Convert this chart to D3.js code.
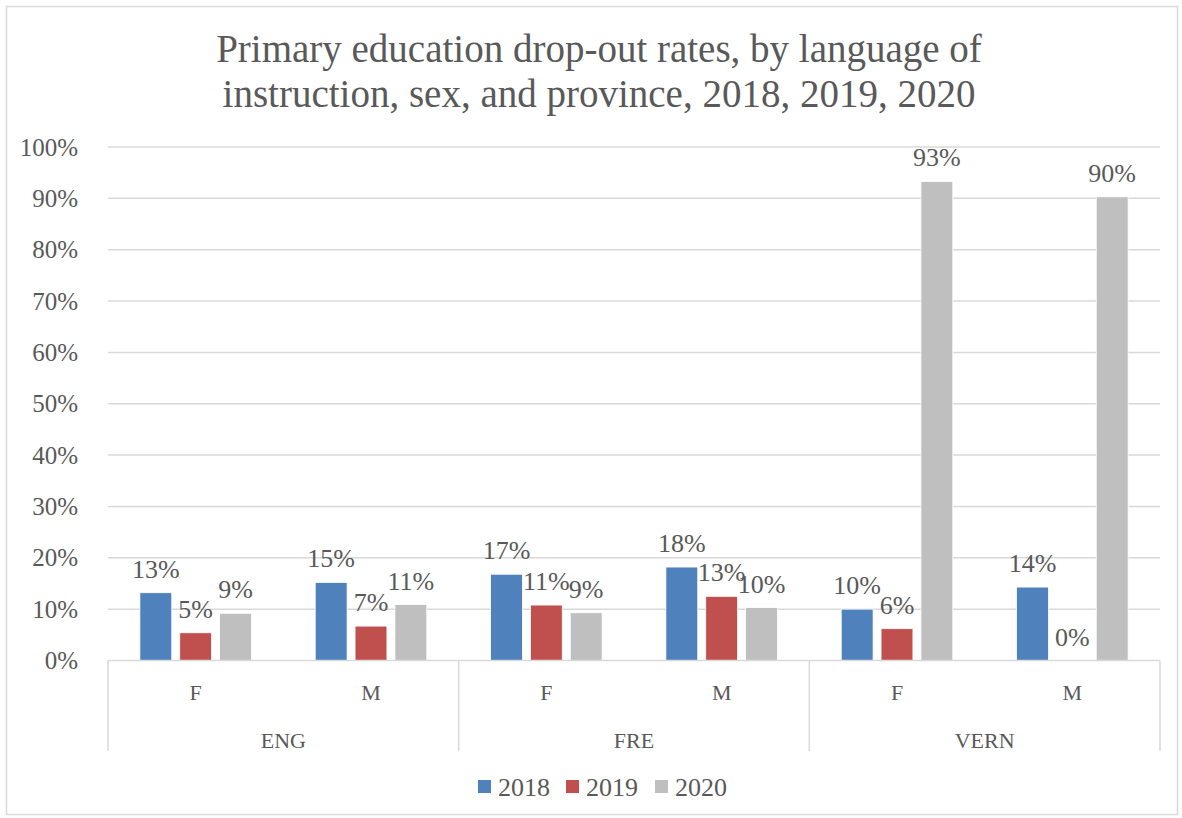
<!DOCTYPE html>
<html>
<head>
<meta charset="utf-8">
<script src="https://cdn.jsdelivr.net/npm/d3@7"></script>
<style>
  body { margin: 0; background: #fff; }
  text { font-family: "Liberation Serif", "DejaVu Serif", serif; fill: #595959; }
</style>
</head>
<body>
<svg id="chart" width="1182" height="818"></svg>
<script>
// data
const groups = ['ENG', 'FRE', 'VERN'];
const sexes = ['F', 'M'];
const years = ['2018', '2019', '2020'];
const v2018 = [13.2, 15.2, 16.8, 18.2, 10.0, 14.3];
const v2019 = [5.4, 6.7, 10.8, 12.5, 6.2, 0];
const v2020 = [9.2, 10.9, 9.3, 10.3, 93.3, 90.3];
const yTicks = [0, 10, 20, 30, 40, 50, 60, 70, 80, 90, 100];
const colors = ['#4F81BD', '#C0504D', '#BFBFBF'];
const titleLines = ['Primary education drop-out rates, by language of',
                    'instruction, sex, and province, 2018, 2019, 2020'];

const svg = d3.select('#chart');
const margin = { left: 108, right: 1160, top: 147, bottom: 660.5 };

// outer frame
svg.append('rect')
    .attr('x', 6.5).attr('y', 6.5)
    .attr('width', 1171).attr('height', 808)
    .attr('fill', 'none').attr('stroke', '#D9D9D9').attr('stroke-width', 1.5);

// title
svg.append('g').selectAll('text')
    .data(titleLines)
    .enter()
    .append('text')
    .attr('x', 599)
    .attr('y', (d, i) => 62 + i * 45)
    .attr('text-anchor', 'middle')
    .attr('font-size', '39px')
    .text(d => d);

// subcategories: group x sex
const cats = [];
groups.forEach(g => sexes.forEach(s => cats.push(g + '|' + s)));

const x0 = d3.scaleBand().domain(cats).range([margin.left, margin.right]);
const x1 = d3.scaleBand().domain(years).range([0, x0.bandwidth()])
    .paddingInner(0.2).paddingOuter(0.8);
const y = d3.scaleLinear().domain([0, 100]).range([margin.bottom, margin.top]);

// gridlines
svg.append('g').selectAll('line')
    .data(yTicks.filter(t => t > 0))
    .enter()
    .append('line')
    .attr('x1', margin.left).attr('x2', margin.right)
    .attr('y1', d => y(d)).attr('y2', d => y(d))
    .attr('stroke', '#D9D9D9').attr('stroke-width', 1.5);

// y axis labels
const yAxis = svg.append('g')
    .attr('transform', `translate(${margin.left},0)`)
    .call(d3.axisLeft(y).tickValues(yTicks).tickFormat(d => d + '%').tickSize(0).tickPadding(30));
yAxis.select('.domain').remove();
yAxis.selectAll('text')
    .attr('font-size', '25px')
    .attr('font-family', '"Liberation Serif", serif')
    .attr('fill', '#595959');

// bars
const series = [v2018, v2019, v2020];
const barData = [];
cats.forEach((c, ci) => {
    years.forEach((yr, yi) => {
        barData.push({ cat: c, year: yr, value: series[yi][ci], color: colors[yi] });
    });
});

svg.append('g').selectAll('rect')
    .data(barData)
    .enter()
    .append('rect')
    .attr('x', d => x0(d.cat) + x1(d.year))
    .attr('y', d => y(d.value))
    .attr('width', x1.bandwidth())
    .attr('height', d => y(0) - y(d.value))
    .attr('fill', d => d.color)
    .attr('stroke', '#fff')
    .attr('stroke-width', 0.8);

// value labels
svg.append('g').selectAll('text')
    .data(barData)
    .enter()
    .append('text')
    .attr('x', d => x0(d.cat) + x1(d.year) + x1.bandwidth() / 2)
    .attr('y', d => y(d.value) - 15)
    .attr('text-anchor', 'middle')
    .attr('font-size', '26px')
    .attr('fill', '#404040')
    .text(d => Math.round(d.value) + '%');

// category axis
const axisG = svg.append('g').attr('stroke', '#D9D9D9').attr('stroke-width', 1.5);
axisG.append('line')
    .attr('x1', margin.left).attr('x2', margin.right)
    .attr('y1', y(0)).attr('y2', y(0));

const groupEdges = groups.map(g => x0(g + '|F')).concat([margin.right]);
axisG.selectAll('.sep')
    .data(groupEdges)
    .enter()
    .append('line')
    .attr('class', 'sep')
    .attr('x1', d => d).attr('x2', d => d)
    .attr('y1', y(0)).attr('y2', 751);

// sex labels
svg.append('g').selectAll('text')
    .data(cats)
    .enter()
    .append('text')
    .attr('x', d => x0(d) + x0.bandwidth() / 2)
    .attr('y', 700)
    .attr('text-anchor', 'middle')
    .attr('font-size', '22px')
    .text(d => d.split('|')[1]);

// group labels
svg.append('g').selectAll('text')
    .data(groups)
    .enter()
    .append('text')
    .attr('x', g => x0(g + '|F') + x0.bandwidth())
    .attr('y', 748)
    .attr('text-anchor', 'middle')
    .attr('font-size', '22px')
    .text(g => g);

// legend
const legendX = [478, 566, 655];
const legend = svg.append('g').selectAll('g')
    .data(years)
    .enter()
    .append('g')
    .attr('transform', (d, i) => `translate(${legendX[i]},780)`);
legend.append('rect')
    .attr('width', 13).attr('height', 13)
    .attr('fill', (d, i) => colors[i]);
legend.append('text')
    .attr('x', 20).attr('y', 16)
    .attr('font-size', '26px')
    .text(d => d);
</script>
</body>
</html>
